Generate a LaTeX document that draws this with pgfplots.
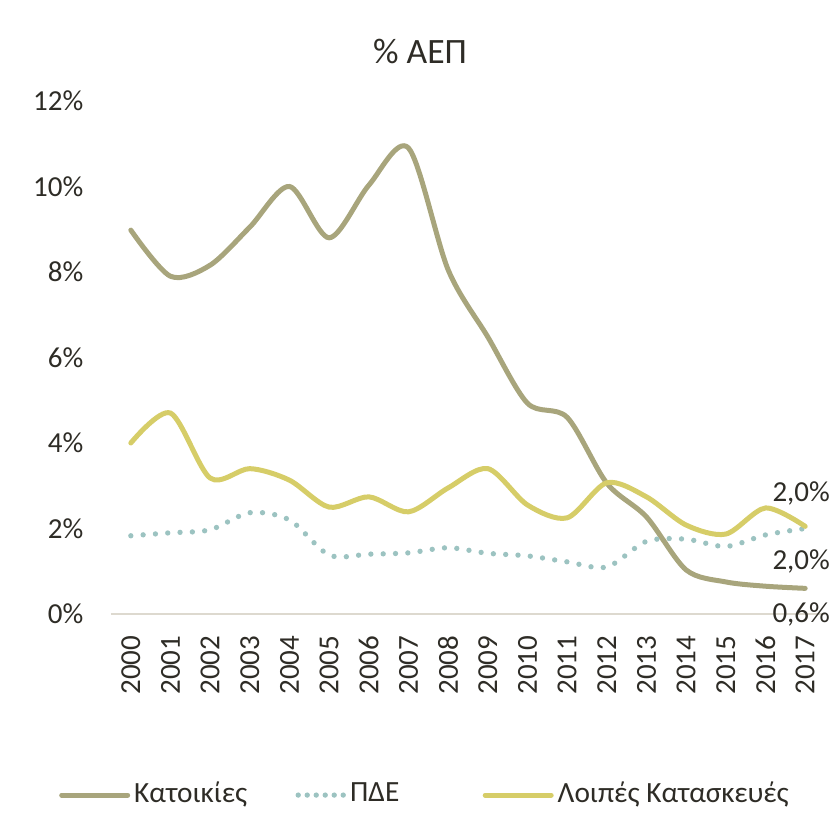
\documentclass[border=0pt]{standalone}
\usepackage{fontspec}
\setmainfont{Carlito}
\usepackage{pgfplots}
\pgfplotsset{compat=1.18}
\definecolor{kat}{HTML}{A8A57C}
\definecolor{pde}{HTML}{9CC3C1}
\definecolor{loi}{HTML}{D6CD68}
\definecolor{txt}{HTML}{2E2C26}
\definecolor{axl}{HTML}{DDD9CF}
\pgfplotsset{
  linelegend/.style={legend image code/.code={\draw[##1] (0pt,0pt) -- (19.8pt,0pt);}},
  dotlegend/.style={legend image code/.code={\draw[##1, dash pattern=on 0pt off 2.7pt] (0pt,0pt) -- (13.6pt,0pt);}},
}

\begin{document}
\begin{tikzpicture}
% 1px of the reference = 0.3pt
\useasboundingbox (-33.3pt,-66.9pt) rectangle (216pt,184.2pt);
\begin{axis}[
  scale only axis,
  width=214.2pt, height=153.9pt,
  xmin=1999.5, xmax=2017.5,
  ymin=0, ymax=12,
  axis x line*=bottom, axis y line*=left,
  x axis line style={draw=axl, line width=0.6pt},
  y axis line style={draw=none},
  tick style={draw=none},
  xtick={2000,...,2017},
  ytick={0,2,...,12},
  yticklabel={\pgfmathprintnumber{\tick}\%},
  xticklabel={\pgfmathprintnumber[1000 sep={}]{\tick}},
  /pgf/number format/assume math mode=true,
  ticklabel style={font=\fontsize{8.7pt}{10pt}\selectfont, text=txt},
  yticklabel style={anchor=east, inner sep=0pt, xshift=-8.1pt},
  xticklabel style={rotate=90, anchor=east, inner sep=0pt},
  xticklabel shift=6.3pt,
  legend columns=3,
  legend style={at={(-0.0735,-0.353)}, anchor=west, draw=none, fill=none,
    inner sep=0pt,
    font=\fontsize{8.8pt}{10pt}\selectfont, text=txt,
    nodes={inner sep=0pt},
    /tikz/column 1/.style={column sep=1.2pt},
    /tikz/column 2/.style={column sep=14.5pt},
    /tikz/column 3/.style={column sep=1.2pt},
    /tikz/column 4/.style={column sep=25pt},
    /tikz/column 5/.style={column sep=1.2pt}},
  linelegend,
  clip=false,
]

% Κατοικίες
\addplot[kat, line width=1.5pt, smooth, line cap=round] coordinates {
  (2000,8.98)(2001,7.90)(2002,8.16)(2003,9.05)(2004,10.0)(2005,8.80)
  (2006,10.03)(2007,10.9)(2008,8.05)(2009,6.48)(2010,4.93)(2011,4.60)
  (2012,3.06)(2013,2.27)(2014,1.03)(2015,0.75)(2016,0.65)(2017,0.60)};
\addlegendentry{Κατοικίες}

% ΠΔΕ
\addplot[pde, line width=1.6pt, smooth, line cap=round, dash pattern=on 0pt off 3.7pt, dotlegend] coordinates {
  (2000,1.83)(2001,1.90)(2002,1.97)(2003,2.37)(2004,2.20)(2005,1.38)
  (2006,1.40)(2007,1.43)(2008,1.55)(2009,1.42)(2010,1.36)(2011,1.22)
  (2012,1.10)(2013,1.70)(2014,1.75)(2015,1.58)(2016,1.85)(2017,2.00)};
\addlegendentry{ΠΔΕ}

% Λοιπές Κατασκευές
\addplot[loi, line width=1.5pt, smooth, line cap=round] coordinates {
  (2000,4.00)(2001,4.70)(2002,3.18)(2003,3.40)(2004,3.13)(2005,2.50)
  (2006,2.74)(2007,2.39)(2008,2.95)(2009,3.40)(2010,2.55)(2011,2.25)
  (2012,3.07)(2013,2.74)(2014,2.08)(2015,1.87)(2016,2.48)(2017,2.05)};
\addlegendentry{Λοιπές Κατασκευές}

\node[font=\fontsize{8.7pt}{10pt}\selectfont, text=txt] at (axis cs:2016.9,2.05) [yshift=9.8pt] {2,0\%};
\node[font=\fontsize{8.7pt}{10pt}\selectfont, text=txt] at (axis cs:2016.9,2.00) [yshift=-9.8pt] {2,0\%};
\node[font=\fontsize{8.7pt}{10pt}\selectfont, text=txt] at (axis cs:2016.9,0.60) [yshift=-7.8pt] {0,6\%};
\end{axis}
\node[font=\fontsize{10.7pt}{12pt}\selectfont, text=txt] at (92.7pt,168.9pt) {\% ΑΕΠ};
\end{tikzpicture}
\end{document}
